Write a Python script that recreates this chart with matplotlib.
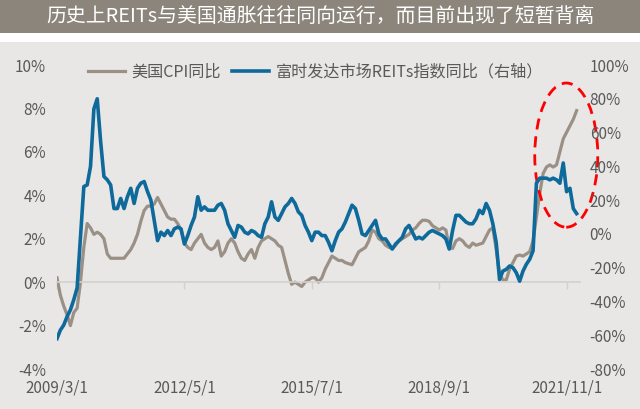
import matplotlib
matplotlib.use("Agg")
import matplotlib.pyplot as plt
from matplotlib.patches import Ellipse, Rectangle
import pandas as pd

plt.rcParams['font.family'] = ['Noto Sans CJK SC', 'DejaVu Sans']

title = "历史上REITs与美国通胀往往同向运行，而目前出现了短暂背离"
cpi_name = "美国CPI同比"
reits_name = "富时发达市场REITs指数同比（右轴）"

months = pd.date_range("2009-03-01", "2022-02-01", freq="MS")
tick_dates = ["2009-03-01", "2012-05-01", "2015-07-01", "2018-09-01", "2021-11-01"]
tick_labels = ["2009/3/1", "2012/5/1", "2015/7/1", "2018/9/1", "2021/11/1"]

# 美国CPI同比 (%), 左轴
cpi = [0.2, -0.6, -1.1, -1.5, -2.0, -1.4, -1.2, 0.0, 1.6, 2.7,
       2.5, 2.2, 2.3, 2.2, 2.0, 1.3, 1.1, 1.1, 1.1, 1.1,
       1.1, 1.3, 1.5, 1.8, 2.2, 2.8, 3.3, 3.5, 3.5, 3.6,
       3.9, 3.6, 3.3, 3.0, 2.9, 2.9, 2.7, 2.4, 1.8, 1.6,
       1.5, 1.8, 2.0, 2.2, 1.8, 1.6, 1.5, 1.6, 1.9, 1.2,
       1.4, 1.8, 2.0, 1.8, 1.4, 1.1, 1.0, 1.3, 1.5, 1.1,
       1.6, 1.9, 2.0, 2.1, 2.0, 1.9, 1.7, 1.6, 1.0, 0.4,
       -0.1, 0.0, -0.1, -0.2, 0.0, 0.1, 0.2, 0.2, 0.0, 0.2,
       0.6, 0.9, 1.2, 1.1, 1.0, 1.0, 0.9, 0.85, 0.8, 1.1,
       1.4, 1.5, 1.6, 1.9, 2.4, 2.3, 2.0, 1.9, 1.7, 1.6,
       1.55, 1.7, 1.9, 2.0, 2.1, 2.2, 2.4, 2.5, 2.7, 2.85,
       2.85, 2.8, 2.6, 2.5, 2.4, 2.5, 2.4, 1.6, 1.55, 1.9,
       2.0, 1.9, 1.7, 1.6, 1.8, 1.7, 1.75, 1.8, 2.1, 2.4,
       2.5, 1.5, 0.4, 0.1, 0.1, 0.6, 0.9, 1.2, 1.25, 1.2,
       1.3, 1.4, 1.9, 3.0, 4.1, 5.0, 5.3, 5.4, 5.3, 5.4,
       6.0, 6.6, 6.9, 7.2, 7.5, 7.9]

# 富时发达市场REITs指数同比 (%), 右轴
reits = [-62, -57, -54, -49, -45, -39, -32, -2, 28, 29,
         40, 74, 80, 55, 34, 32, 29, 15, 15, 21,
         15, 22, 27, 18, 27, 30, 31, 25, 20, 8,
         -4, 1, -1, 2, -1, 3, 4, 3, -6, -1,
         5, 10, 22, 14, 16, 14, 14, 14, 17, 18,
         14, 6, 2, -2, 5, 4, 1, 0, 2, 1,
         -1, -2, 6, 10, 19, 10, 8, 12, 16, 18,
         21, 18, 13, 11, 5, 1, -4, 1, 1, -1,
         -1, -5, -10, -4, 1, 3, 7, 12, 17, 15,
         8, 0, -1, 2, 5, 8, 0, -3, -3, -6,
         -9, -6, -4, -2, 3, 5, 1, -3, -2, -3,
         -1, 1, 2, 1, 0, -1, -3, -9, 2, 11,
         11, 9, 7, 6, 6, 9, 14, 12, 18, 14,
         6, -5, -27, -22, -21, -19, -20, -23, -28, -22,
         -18, -15, -10, 30, 33, 33, 33, 32, 33, 32,
         30, 42, 25, 27, 15, 12]

left_ticks = [-4, -2, 0, 2, 4, 6, 8, 10]
right_ticks = [-80, -60, -40, -20, 0, 20, 40, 60, 80, 100]

GRAY = "#9a9086"
BLUE = "#0f6a9c"
TXT = "#595959"


def main():
    fig = plt.figure(figsize=(6.4, 4.09), dpi=100, facecolor="white")
    H = 409.0
    # title bar and chart background
    fig.patches.append(Rectangle((0, 1 - 33 / H), 1, 33 / H, transform=fig.transFigure,
                                 facecolor="#8c857c", edgecolor="none", zorder=-10))
    fig.patches.append(Rectangle((0, 0), 1, 1 - 42 / H, transform=fig.transFigure,
                                 facecolor="#e8e7e5", edgecolor="none", zorder=-10))
    fig.text(0.5, 1 - 17 / H, title, ha="center", va="center", color="white", fontsize=14.3)

    ax = fig.add_axes([57 / 640, 1 - 369 / H, 523 / 640, 304 / H])
    ax.set_facecolor("none")
    x = list(range(len(months)))
    l1, = ax.plot(x, cpi, color=GRAY, lw=2.3, label=cpi_name, solid_joinstyle="round")
    ax.set_ylim(-4, 10)
    ax.set_xlim(0, len(months))
    ax.set_yticks(left_ticks)
    ax.set_yticklabels([f"{v}%" for v in left_ticks])
    for s in ["top", "left", "right"]:
        ax.spines[s].set_visible(False)
    ax.spines["bottom"].set_position(("data", 0))
    ax.spines["bottom"].set_color("#d3d1ce")
    ax.spines["bottom"].set_linewidth(1.2)
    ticks = [months.get_loc(pd.Timestamp(d)) for d in tick_dates]
    ax.set_xticks(ticks)
    ax.set_xticklabels(tick_labels)
    ax.tick_params(axis="x", direction="out", length=5, width=1, color="#d3d1ce",
                   pad=65, labelsize=11, labelcolor=TXT)
    ax.tick_params(axis="y", length=0, pad=8, labelsize=11, labelcolor=TXT)

    ax2 = ax.twinx()
    l2, = ax2.plot(x, reits, color=BLUE, lw=2.6, label=reits_name, solid_joinstyle="round")
    ax2.set_ylim(-80, 100)
    ax2.set_yticks(right_ticks)
    ax2.set_yticklabels([f"{v}%" for v in right_ticks])
    for s in ax2.spines.values():
        s.set_visible(False)
    ax2.tick_params(axis="y", length=0, pad=7, labelsize=11, labelcolor=TXT)

    # red dashed circle around the recent divergence
    ell = Ellipse((151.9, 5.85), 18.8, 6.64, fill=False, edgecolor="#ff0000", lw=2,
                  linestyle=(0, (4, 2.5)), clip_on=False, zorder=5)
    ax.add_patch(ell)

    fig.legend(handles=[l1, l2], loc="center left", bbox_to_anchor=(88 / 640, 1 - 72 / H),
               ncol=2, frameon=False, fontsize=11.6, handlelength=2.3, handletextpad=0.4,
               columnspacing=0.7, borderpad=0, borderaxespad=0, labelcolor=TXT)

    fig.savefig("out.png", dpi=100, facecolor="white")


if __name__ == "__main__":
    main()
